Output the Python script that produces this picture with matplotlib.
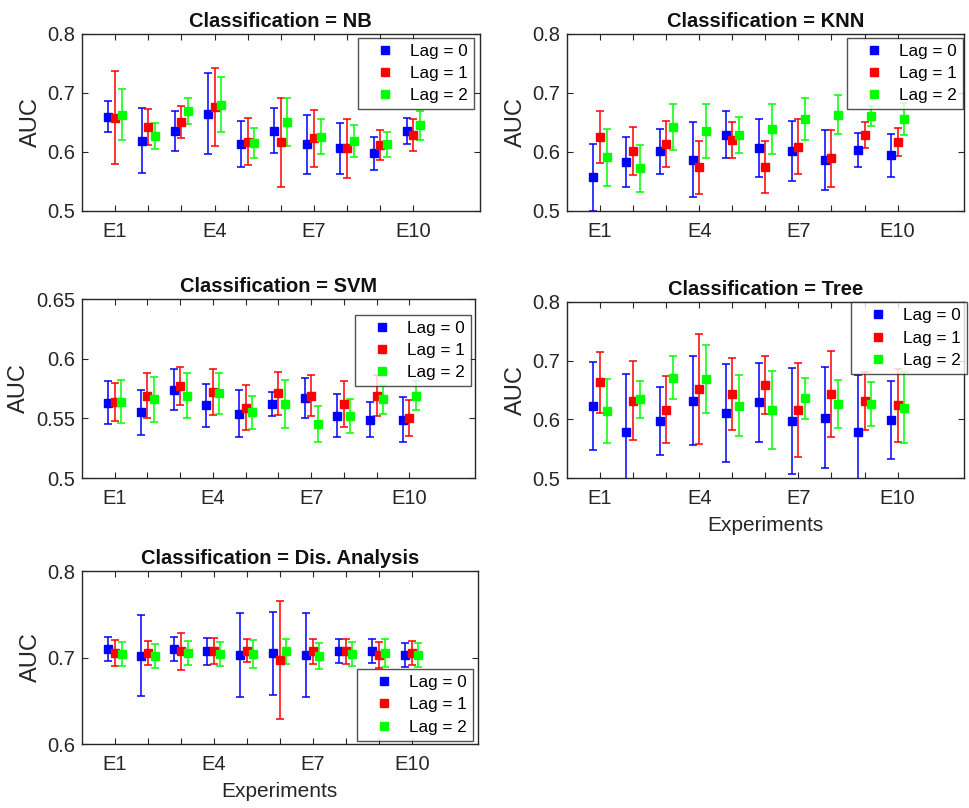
import matplotlib
matplotlib.use('Agg')
import matplotlib.pyplot as plt
from matplotlib.lines import Line2D
import numpy as np

plt.rcParams['font.family'] = ['Liberation Sans', 'DejaVu Sans']

experiments = [f'E{i}' for i in range(1, 11)]
shown_ticks = ['E1', 'E4', 'E7', 'E10']
lags = ['Lag = 0', 'Lag = 1', 'Lag = 2']
lag_colors = ['#0000ff', '#ff0000', '#00ff00']
lag_offsets = [-0.2, 0.0, 0.2]

# mean AUC per lag (rows) and experiment (columns), plus half-width of the error bar
nb_mean = [[0.660, 0.619, 0.636, 0.665, 0.613, 0.636, 0.613, 0.606, 0.598, 0.636],
           [0.658, 0.642, 0.651, 0.676, 0.617, 0.616, 0.623, 0.606, 0.612, 0.629],
           [0.663, 0.627, 0.669, 0.680, 0.615, 0.651, 0.626, 0.619, 0.613, 0.645]]
nb_err = [[0.027, 0.055, 0.034, 0.068, 0.039, 0.038, 0.050, 0.043, 0.028, 0.022],
          [0.079, 0.031, 0.027, 0.066, 0.040, 0.076, 0.048, 0.050, 0.025, 0.027],
          [0.043, 0.022, 0.022, 0.047, 0.025, 0.041, 0.029, 0.027, 0.021, 0.025]]

knn_mean = [[0.557, 0.583, 0.601, 0.587, 0.629, 0.606, 0.601, 0.586, 0.603, 0.594],
            [0.626, 0.602, 0.614, 0.574, 0.620, 0.575, 0.609, 0.589, 0.629, 0.617],
            [0.591, 0.572, 0.642, 0.636, 0.629, 0.639, 0.656, 0.663, 0.661, 0.656]]
knn_err = [[0.057, 0.043, 0.038, 0.063, 0.040, 0.049, 0.051, 0.051, 0.029, 0.036],
           [0.044, 0.041, 0.039, 0.045, 0.030, 0.044, 0.047, 0.048, 0.022, 0.024],
           [0.048, 0.040, 0.039, 0.046, 0.031, 0.042, 0.035, 0.033, 0.017, 0.027]]

svm_mean = [[0.563, 0.555, 0.574, 0.561, 0.554, 0.562, 0.567, 0.552, 0.549, 0.549],
            [0.564, 0.569, 0.577, 0.572, 0.559, 0.571, 0.569, 0.562, 0.569, 0.550],
            [0.564, 0.566, 0.569, 0.571, 0.555, 0.562, 0.545, 0.552, 0.566, 0.569]]
svm_err = [[0.018, 0.019, 0.017, 0.018, 0.020, 0.010, 0.017, 0.018, 0.015, 0.019],
           [0.016, 0.019, 0.016, 0.019, 0.019, 0.018, 0.017, 0.019, 0.017, 0.015],
           [0.018, 0.019, 0.019, 0.017, 0.014, 0.020, 0.015, 0.014, 0.012, 0.012]]

tree_mean = [[0.623, 0.579, 0.597, 0.632, 0.611, 0.629, 0.597, 0.603, 0.578, 0.599],
             [0.663, 0.632, 0.616, 0.652, 0.643, 0.658, 0.616, 0.643, 0.631, 0.624],
             [0.614, 0.634, 0.671, 0.668, 0.623, 0.616, 0.636, 0.626, 0.626, 0.620]]
tree_err = [[0.075, 0.098, 0.058, 0.076, 0.083, 0.067, 0.091, 0.086, 0.098, 0.066],
            [0.052, 0.068, 0.057, 0.094, 0.062, 0.049, 0.080, 0.074, 0.050, 0.062],
            [0.055, 0.031, 0.036, 0.058, 0.052, 0.066, 0.035, 0.041, 0.038, 0.060]]

da_mean = [[0.710, 0.702, 0.710, 0.707, 0.703, 0.705, 0.703, 0.708, 0.708, 0.703],
           [0.705, 0.705, 0.707, 0.708, 0.708, 0.697, 0.707, 0.707, 0.703, 0.705],
           [0.704, 0.702, 0.705, 0.704, 0.704, 0.707, 0.702, 0.704, 0.705, 0.703]]
da_err = [[0.014, 0.047, 0.014, 0.016, 0.049, 0.048, 0.049, 0.014, 0.014, 0.014],
          [0.015, 0.014, 0.021, 0.015, 0.013, 0.068, 0.014, 0.014, 0.015, 0.014],
          [0.014, 0.014, 0.014, 0.014, 0.016, 0.014, 0.015, 0.014, 0.016, 0.014]]

auc_ticks = [0.5, 0.6, 0.7, 0.8]
svm_ticks = [0.5, 0.55, 0.6, 0.65]
da_ticks = [0.6, 0.7, 0.8]

# title, means, errors, axes rect, y ticks, legend loc, legend anchor, x label
panels = [
    ('NB', nb_mean, nb_err, [0.0845, 0.739, 0.410, 0.219], auc_ticks,
     'upper right', (0.985, 0.978), False),
    ('KNN', knn_mean, knn_err, [0.5845, 0.739, 0.409, 0.219], auc_ticks,
     'upper right', (0.998, 0.978), False),
    ('SVM', svm_mean, svm_err, [0.0845, 0.4084, 0.405, 0.2215], svm_ticks,
     'upper right', (0.99, 0.91), False),
    ('Tree', tree_mean, tree_err, [0.5845, 0.4084, 0.409, 0.218], auc_ticks,
     'upper right', (1.008, 0.997), True),
    ('Dis. Analysis', da_mean, da_err, [0.0845, 0.0792, 0.408, 0.214], da_ticks,
     'lower right', (0.988, 0.02), True),
]

fig = plt.figure(figsize=(9.7, 8.08), dpi=100)
x = np.arange(1, len(experiments) + 1)
dark = '#262626'

for name, means, errs, rect, yticks, loc, anchor, show_xlabel in panels:
    ax = fig.add_axes(rect)
    for k in range(3):
        ax.errorbar(x + lag_offsets[k], means[k], yerr=errs[k], fmt='s',
                    color=lag_colors[k], ms=6, elinewidth=1.1, capsize=2.6,
                    capthick=1.1)
    ax.set_xlim(0, 12)
    ax.set_ylim(yticks[0], yticks[-1])
    ax.set_xticks(x)
    ax.set_xticklabels([e if e in shown_ticks else '' for e in experiments])
    ax.set_yticks(yticks)
    ax.set_yticklabels([f'{t:g}' for t in yticks])
    ax.tick_params(direction='in', top=True, right=True, length=4, width=0.8,
                   labelsize=14.5, colors=dark)
    ax.tick_params(axis='x', pad=8)
    ax.tick_params(axis='y', pad=5)
    for s in ax.spines.values():
        s.set_color(dark)
        s.set_linewidth(1.0)
    ax.set_ylabel('AUC', fontsize=17, color=dark, labelpad=4)
    ax.set_title(f'Classification = {name}', fontsize=14.5, fontweight='bold',
                 color='#111111', pad=5)
    if show_xlabel:
        ax.set_xlabel('Experiments', fontsize=15, color=dark, labelpad=6)
    handles = [Line2D([], [], marker='s', linestyle='none', color=c, ms=5.5)
               for c in lag_colors]
    leg = ax.legend(handles, lags, loc=loc, bbox_to_anchor=anchor, fontsize=12.3,
                    frameon=True, fancybox=False, borderaxespad=0,
                    handlelength=2.5, handletextpad=0.2, labelspacing=0.42,
                    borderpad=0.35)
    leg.get_frame().set_edgecolor(dark)
    leg.get_frame().set_linewidth(1.0)

fig.savefig('out.png', dpi=100)
